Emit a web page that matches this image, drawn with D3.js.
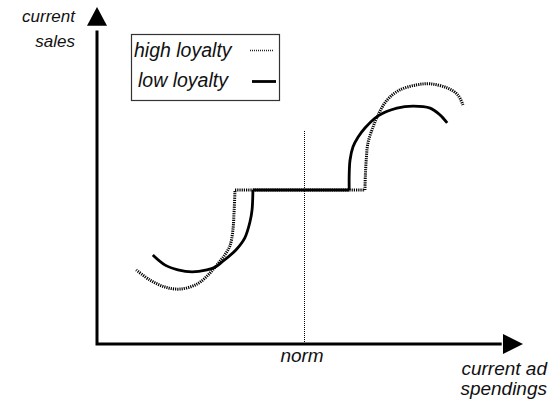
<!DOCTYPE html>
<html>
<head>
<meta charset="utf-8">
<script src="https://cdn.jsdelivr.net/npm/d3@7"></script>
<style>
  body { margin: 0; background: #fff; }
  text { font-family: "Liberation Sans", Arial, sans-serif; font-style: italic; fill: #111; }
</style>
</head>
<body>
<div id="plot"></div>
<script>
// curves, in 0..100 units of ad spend / sales
let highLeft = [[9.2,22.0],[12.4,19.0],[16.0,16.9],[19.5,16.3],[23.5,17.8],[26.1,20.5],[27.9,23.1],[29.8,26.1],[31.2,29.1],[31.9,33.8],[32.2,39.8],[32.4,45.7]];
let highFlat = [[32.4,45.7],[62.9,45.7]];
let highRight = [[62.9,45.7],[63.0,50.1],[63.2,54.6],[63.6,59.6],[64.8,64.4],[66.0,68.0],[68.1,72.4],[71.1,75.4],[75.1,76.9],[78.2,77.2],[82.2,76.0],[84.7,73.9],[85.9,70.9]];

let lowLeft = [[13.1,26.4],[16.0,23.4],[19.0,22.0],[22.3,21.4],[25.8,22.0],[27.7,22.8],[29.3,24.3],[32.6,27.9],[34.7,31.5],[35.9,36.2],[36.4,39.8],[36.6,45.7]];
let lowFlat = [[36.6,45.7],[59.2,45.7]];
let lowRight = [[59.2,45.7],[59.2,50.1],[59.4,54.6],[60.1,58.5],[61.3,61.4],[62.9,64.1],[66.0,67.7],[70.4,70.0],[74.2,70.6],[78.2,70.0],[80.5,68.0],[82.2,65.6]];

let normValue = 48.6;
let normTop = 63.5;
let legendLabels = ['high loyalty', 'low loyalty'];
let yLabel = ['current', 'sales'];
let xLabel = ['current ad', 'spendings'];

let svgWidth = 553;
let svgHeight = 403;

let svg = d3.select('#plot')
            .append('svg')
                .attr('width', svgWidth)
                .attr('height', svgHeight);

let x = d3.scaleLinear().domain([0, 100]).range([97, 523]);
let y = d3.scaleLinear().domain([0, 100]).range([344, 7]);

let curve = d3.line()
                .x(d => x(d[0]))
                .y(d => y(d[1]))
                .curve(d3.curveCatmullRom.alpha(0.5));
let straight = d3.line()
                .x(d => x(d[0]))
                .y(d => y(d[1]));

// norm line
svg.append('line')
    .attr('x1', Math.round(x(normValue)) + 0.5)
    .attr('x2', Math.round(x(normValue)) + 0.5)
    .attr('y1', y(0))
    .attr('y2', y(normTop))
    .attr('stroke', '#000')
    .attr('stroke-width', 1)
    .attr('stroke-dasharray', '1,1');

// high loyalty dotted
let highD = curve(highLeft) + straight(highFlat) + curve(highRight);
svg.append('path')
    .attr('d', highD)
    .attr('fill', 'none')
    .attr('stroke', '#000')
    .attr('stroke-width', 3)
    .attr('stroke-dasharray', '1.2,1');

// low loyalty solid
let lowD = curve(lowLeft) + straight(lowFlat) + curve(lowRight);
svg.append('path')
    .attr('d', lowD)
    .attr('fill', 'none')
    .attr('stroke', '#000')
    .attr('stroke-width', 2.8);

// axes with arrowheads
let axes = svg.append('g');
axes.append('path')
    .attr('d', `M${x(0)},${y(93)} L${x(0)},${y(0)} L${x(95)},${y(0)}`)
    .attr('fill', 'none')
    .attr('stroke', '#000')
    .attr('stroke-width', 3)
    .attr('stroke-linejoin', 'miter');
axes.append('path')
    .attr('d', `M${x(0)},${y(100)} L${x(0) - 10},${y(94.4)} L${x(0) + 10},${y(94.4)} Z`)
    .attr('fill', '#000');
axes.append('path')
    .attr('d', `M${x(100)},${y(0)} L${x(95.3)},${y(0) - 10} L${x(95.3)},${y(0) + 10} Z`)
    .attr('fill', '#000');

// axis labels
let yl = svg.append('text')
    .attr('text-anchor', 'end')
    .attr('font-size', 17);
yl.selectAll('tspan')
    .data(yLabel)
    .join('tspan')
        .attr('x', 75)
        .attr('y', (d, i) => 22 + i * 25)
        .text(d => d);

let xl = svg.append('text')
    .attr('text-anchor', 'end')
    .attr('font-size', 19);
xl.selectAll('tspan')
    .data(xLabel)
    .join('tspan')
        .attr('x', 547)
        .attr('y', (d, i) => 375 + i * 20)
        .text(d => d);

svg.append('text')
    .attr('x', x(normValue) - 2)
    .attr('y', 362)
    .attr('text-anchor', 'middle')
    .attr('font-size', 19)
    .text('norm');

// legend
let legend = svg.append('g');
legend.append('rect')
    .attr('x', 131.5)
    .attr('y', 34.5)
    .attr('width', 148)
    .attr('height', 66)
    .attr('fill', '#fff')
    .attr('stroke', '#333')
    .attr('stroke-width', 1.2);

legend.selectAll('text.lab')
    .data(legendLabels)
    .join('text')
        .attr('class', 'lab')
        .attr('x', (d, i) => 134 + i * 4)
        .attr('y', (d, i) => 57 + i * 30)
        .attr('font-size', 19.5)
        .text(d => d);

legend.append('line')
    .attr('x1', 250).attr('x2', 274)
    .attr('y1', 50.5).attr('y2', 50.5)
    .attr('stroke', '#222')
    .attr('stroke-width', 1.5)
    .attr('stroke-dasharray', '1,1');
legend.append('line')
    .attr('x1', 252).attr('x2', 276)
    .attr('y1', 81.5).attr('y2', 81.5)
    .attr('stroke', '#000')
    .attr('stroke-width', 2.8);
</script>
</body>
</html>
